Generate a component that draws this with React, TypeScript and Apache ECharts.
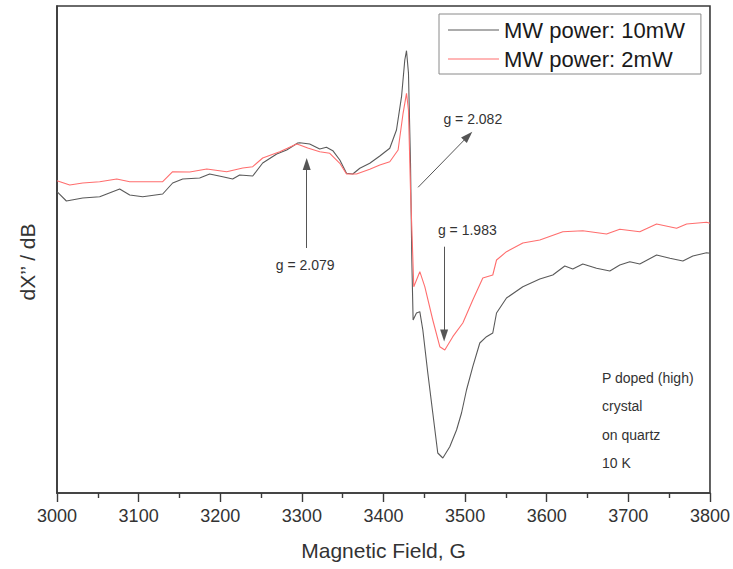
import React, { useEffect, useRef } from "react";
import * as echarts from "echarts";

// EPR derivative spectra, P-doped crystal on quartz, 10 K.
// Field in gauss, signal in arbitrary units.
const field10mW = [
  3000, 3011.5, 3031.5, 3052.3, 3076.8, 3089.1, 3105.0, 3129.5, 3141.7, 3154.0,
  3174.8, 3187.0, 3203.0, 3215.2, 3223.8, 3239.8, 3252.0, 3269.2, 3281.4, 3294.9,
  3297.4, 3309.6, 3321.9, 3330.1, 3337.9, 3346.5, 3354.7, 3362.4, 3371.0, 3383.2,
  3395.5, 3407.7, 3415.9, 3422.1, 3426.1, 3428.2, 3430.6, 3433.1, 3434.7, 3436.3,
  3440.4, 3444.5, 3448.2, 3454.3, 3460.4, 3466.5, 3472.7, 3481.2, 3489.5, 3495.6,
  3501.7, 3509.4, 3518.0, 3526.2, 3533.9, 3538.5, 3550.7, 3570.7, 3591.5, 3607.4,
  3622.1, 3631.9, 3644.2, 3661.0, 3677.3, 3689.5, 3701.8, 3714.0, 3734.6, 3750.9,
  3766.8, 3779.0, 3795.8, 3800,
];
const signal10mW = [
  1.083, 0.99, 1.02, 1.033, 1.11, 1.05, 1.033, 1.06, 1.17, 1.21,
  1.22, 1.26, 1.233, 1.21, 1.25, 1.24, 1.37, 1.46, 1.5, 1.57,
  1.573, 1.56, 1.51, 1.527, 1.493, 1.4, 1.267, 1.26, 1.317, 1.367,
  1.44, 1.517, 1.7, 2.033, 2.4, 2.493, 2.27, 1.37, 0.4, -0.2,
  -0.13, -0.117, -0.3, -0.73, -1.13, -1.53, -1.58, -1.467, -1.3, -1.13,
  -0.9, -0.667, -0.43, -0.367, -0.33, -0.13, 0.02, 0.133, 0.21, 0.25,
  0.34, 0.31, 0.36, 0.317, 0.29, 0.35, 0.383, 0.36, 0.45, 0.417,
  0.39, 0.44, 0.473, 0.467,
];

const field2mW = [
  3000, 3015.6, 3031.5, 3052.3, 3073.2, 3089.1, 3113.6, 3129.5, 3141.7, 3162.6,
  3183.5, 3207.9, 3227.6, 3239.8, 3252.0, 3272.9, 3293.7, 3297.4, 3307.2, 3321.9,
  3334.2, 3346.5, 3354.7, 3366.9, 3383.2, 3395.5, 3407.7, 3417.9, 3424.0, 3428.2,
  3430.6, 3433.1, 3435.5, 3437.1, 3444.5, 3450.6, 3460.4, 3469.0, 3475.1, 3484.9,
  3497.2, 3509.4, 3521.7, 3533.9, 3538.5, 3550.7, 3570.7, 3591.5, 3619.7, 3644.2,
  3673.3, 3689.5, 3714.0, 3734.6, 3759.1, 3771.4, 3795.8, 3800,
];
const signal2mW = [
  1.193, 1.15, 1.17, 1.183, 1.21, 1.183, 1.183, 1.183, 1.283, 1.28,
  1.31, 1.283, 1.32, 1.333, 1.42, 1.483, 1.56, 1.55, 1.52, 1.483,
  1.467, 1.367, 1.26, 1.26, 1.307, 1.35, 1.383, 1.5, 1.867, 2.067,
  1.9, 1.1, 0.533, 0.133, 0.283, 0.133, -0.2, -0.467, -0.5, -0.367,
  -0.23, 0.0, 0.22, 0.25, 0.4, 0.483, 0.57, 0.6, 0.683, 0.693,
  0.66, 0.707, 0.683, 0.76, 0.717, 0.76, 0.777, 0.767,
];

// g-factor annotations: arrow tail, arrow head, label anchor
const gLabels = ["g = 2.079", "g = 2.082", "g = 1.983"];
const gArrowFrom: [number, number][] = [
  [3305.9, 0.52],
  [3442.4, 1.127],
  [3474.3, 0.533],
];
const gArrowTo: [number, number][] = [
  [3305.9, 1.36],
  [3503.7, 1.64],
  [3474.3, -0.355],
];
const gLabelAt: [number, number][] = [
  [3304, 0.35],
  [3509.4, 1.807],
  [3502.7, 0.7],
];

const sampleNotes = ["P doped (high)", "crystal", "on quartz", "10 K"];
const xTicks = { min: 3000, max: 3800, step: 100 };
const seriesNames = ["MW power: 10mW", "MW power: 2mW"];

const FONT = "'Liberation Sans', Arial, Helvetica, sans-serif";
const TEXT = "#333333";
const FRAME = "#3a3a3a";

const zip = (xs: number[], ys: number[]) => xs.map((x, i) => [x, ys[i]]);

export default function App() {
  const ref = useRef<HTMLDivElement>(null);

  useEffect(() => {
    if (!ref.current) return;
    const chart = echarts.init(ref.current, undefined, { renderer: "svg" });

    const option: echarts.EChartsOption = {
      animation: false,
      backgroundColor: "#ffffff",
      grid: {
        left: 57,
        right: 23,
        top: 6,
        bottom: 76,
        show: true,
        borderColor: FRAME,
        borderWidth: 1.6,
      },
      legend: {
        orient: "vertical",
        left: 439,
        top: 14,
        padding: [5, 16, 4, 9],
        itemGap: 7,
        itemWidth: 51,
        itemHeight: 1.2,
        icon: "rect",
        borderColor: "#8a8a8a",
        borderWidth: 1,
        backgroundColor: "#ffffff",
        textStyle: {
          fontFamily: FONT,
          fontSize: 22,
          lineHeight: 22,
          color: "#1a1a1a",
        },
        data: seriesNames,
      },
      xAxis: {
        type: "value",
        min: xTicks.min,
        max: xTicks.max,
        interval: xTicks.step,
        name: "Magnetic Field, G",
        nameLocation: "middle",
        nameGap: 47,
        nameTextStyle: { fontFamily: FONT, fontSize: 21, color: TEXT },
        axisLine: { show: true, onZero: false, lineStyle: { color: FRAME, width: 1.6 } },
        axisTick: { show: true, inside: false, length: 9, lineStyle: { color: FRAME, width: 1.4 } },
        minorTick: { show: true, splitNumber: 2, length: 5, lineStyle: { color: FRAME, width: 1.4 } },
        axisLabel: {
          fontFamily: FONT,
          fontSize: 18,
          color: TEXT,
          margin: 14,
          formatter: (v: number) => String(v),
        },
        splitLine: { show: false },
        minorSplitLine: { show: false },
      },
      yAxis: {
        type: "value",
        min: -1.93,
        max: 2.94,
        axisLine: { show: true, onZero: false, lineStyle: { color: FRAME, width: 1.6 } },
        axisTick: { show: false },
        axisLabel: { show: false },
        splitLine: { show: false },
      },
      graphic: [
        {
          type: "text",
          x: 27,
          y: 262,
          rotation: Math.PI / 2,
          style: {
            text: "dX\u2019\u2019 / dB",
            fontFamily: FONT,
            fontSize: 21,
            fill: TEXT,
            align: "center",
            verticalAlign: "middle",
          },
        },
        ...sampleNotes.map((t, i) => ({
          type: "text" as const,
          x: 602,
          y: 378 + i * 28.3,
          style: {
            text: t,
            fontFamily: FONT,
            fontSize: 14,
            fill: TEXT,
            align: "left" as const,
            verticalAlign: "middle" as const,
          },
        })),
      ],
      series: [
        {
          name: seriesNames[0],
          type: "line",
          data: zip(field10mW, signal10mW),
          symbol: "none",
          lineStyle: { color: "#5a5a5a", width: 1.1 },
          itemStyle: { color: "#5a5a5a" },
          z: 2,
          markLine: {
            silent: true,
            symbol: ["none", "triangle"],
            symbolSize: [8, 12],
            lineStyle: { color: "#555555", width: 1, type: "solid" },
            label: { show: false },
            data: gArrowFrom.map((p, i) => [
              { coord: p },
              { coord: gArrowTo[i], symbol: "triangle", itemStyle: { color: "#111111" } },
            ]) as any,
          },
          markPoint: {
            silent: true,
            symbol: "circle",
            symbolSize: 1,
            itemStyle: { color: "rgba(0,0,0,0)" },
            label: {
              show: true,
              position: "inside",
              formatter: "{b}",
              fontFamily: FONT,
              fontSize: 14,
              color: TEXT,
            },
            data: gLabels.map((t, i) => ({ name: t, coord: gLabelAt[i] })),
          },
        },
        {
          name: seriesNames[1],
          type: "line",
          data: zip(field2mW, signal2mW),
          symbol: "none",
          lineStyle: { color: "#ff6e6e", width: 1.1 },
          itemStyle: { color: "#ff6e6e" },
          z: 3,
        },
      ],
    };

    chart.setOption(option);
    return () => chart.dispose();
  }, []);

  return (
    <div
      ref={ref}
      style={{ position: "absolute", left: 0, top: 0, width: 733, height: 569 }}
    />
  );
}
